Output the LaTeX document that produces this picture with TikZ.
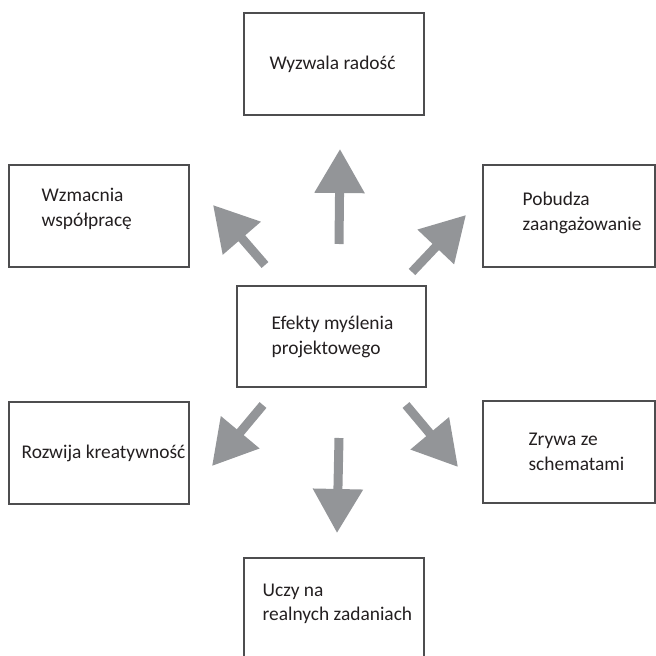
\documentclass[tikz,border=0pt]{standalone}
\usepackage{fontspec}
\setmainfont{Carlito}
\usetikzlibrary{positioning,arrows.meta}
\definecolor{arrowgray}{HTML}{939598}
\definecolor{framegray}{HTML}{4D4D4F}
\definecolor{inkgray}{HTML}{231F20}

\begin{document}
\begin{tikzpicture}[x=0.025cm, y=-0.025cm,
    effect block/.style={draw=framegray, line width=0.9pt, rectangle, minimum width=4.5cm, minimum height=2.55cm},
    effect text/.style={inner sep=0pt, align=left, text=inkgray, font=\fontsize{13.8}{17.7}\selectfont},
    big arrow/.style={draw=arrowgray, line width=0.225cm, -{Triangle[length=1.1cm, width=1.2cm]}}]
    \useasboundingbox (0,0) rectangle (656,656);
    \clip (0,0) rectangle (656,656);

    \node[effect block, minimum width=4.725cm, minimum height=2.525cm] (effects) at (331.5,336.5) {};
    \node[effect block] (joy) at (334,64) {};
    \node[effect block] (collab) at (99,216) {};
    \node[effect block, minimum width=4.3cm] (engage) at (569,216) {};
    \node[effect block] (creat) at (99,453) {};
    \node[effect block, minimum width=4.3cm] (patterns) at (569,452) {};
    \node[effect block] (tasks) at (334,609) {};

    \node[effect text, right=0.875cm of effects.west] (effects text) {Efekty myślenia\\projektowego};
    \node[effect text, right=0.65cm of joy.west] (joy text) {Wyzwala radość};
    \node[effect text, right=0.825cm of collab.west, yshift=0.17cm] (collab text) {Wzmacnia\\współpracę};
    \node[effect text, right=1cm of engage.west, yshift=0.08cm] (engage text) {Pobudza\\zaangażowanie};
    \node[effect text, right=0.325cm of creat.west] (creat text) {Rozwija kreatywność};
    \node[effect text, right=1.15cm of patterns.west] (patterns text) {Zrywa ze\\schematami};
    \node[effect text, right=0.475cm of tasks.west, yshift=0.13cm] (tasks text) {Uczy na\\realnych zadaniach};

    % arrow ends
    \coordinate (up tail) at (339,244);
    \coordinate (up tip) at (340,149);
    \coordinate (ul tail) at (265,265);
    \coordinate (ul tip) at (213,205);
    \coordinate (ur tail) at (412,272);
    \coordinate (ur tip) at (466,215);
    \coordinate (dl tail) at (263,405);
    \coordinate (dl tip) at (212,466);
    \coordinate (dr tail) at (406,405);
    \coordinate (dr tip) at (458,467);
    \coordinate (down tail) at (339,438);
    \coordinate (down tip) at (337,533);

    \draw[big arrow] (up tail) -- (up tip);
    \draw[big arrow] (ul tail) -- (ul tip);
    \draw[big arrow] (ur tail) -- (ur tip);
    \draw[big arrow] (dl tail) -- (dl tip);
    \draw[big arrow] (dr tail) -- (dr tip);
    \draw[big arrow] (down tail) -- (down tip);
\end{tikzpicture}
\end{document}
